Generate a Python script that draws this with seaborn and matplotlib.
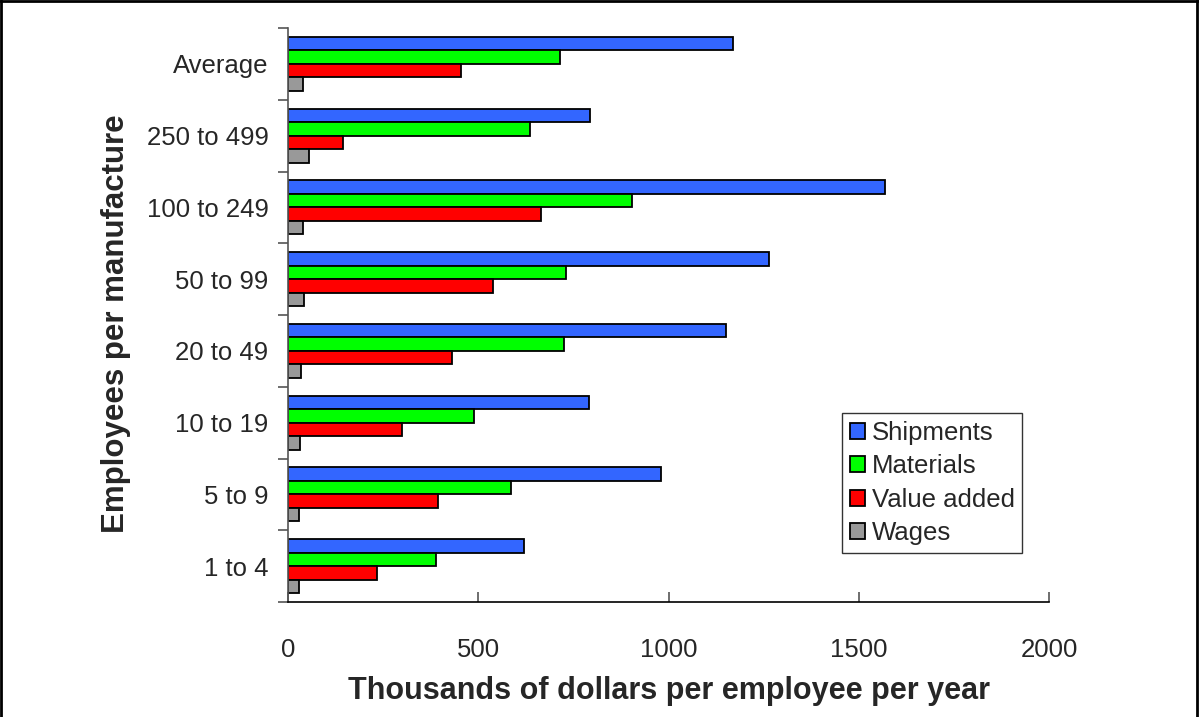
import matplotlib
matplotlib.use("Agg")
import matplotlib.pyplot as plt
from matplotlib.lines import Line2D
from matplotlib.ticker import FixedLocator, NullFormatter
import numpy as np
import pandas as pd
import seaborn as sns

# Establishment size classes (top to bottom) and the four per-employee measures
categories = ["Average", "250 to 499", "100 to 249", "50 to 99",
              "20 to 49", "10 to 19", "5 to 9", "1 to 4"]
series = ["Shipments", "Materials", "Value added", "Wages"]
shipments = [1170, 795, 1570, 1265, 1150, 790, 980, 620]
materials = [715, 635, 905, 730, 725, 490, 585, 390]
value_added = [455, 145, 665, 540, 430, 300, 395, 235]
wages = [40, 55, 40, 42, 35, 32, 30, 28]

colors = ["#3366FF", "#00FF00", "#FF0000", "#999999"]

df = pd.DataFrame({
    "size": categories * 4,
    "measure": sum([[s] * len(categories) for s in series], []),
    "value": shipments + materials + value_added + wages,
})

sns.set_theme(style="white")
plt.rcParams["font.family"] = ["Liberation Sans", "DejaVu Sans"]

fig = plt.figure(figsize=(11.99, 7.17), dpi=100)
ax = fig.add_axes([288 / 1199, 1 - 602 / 717, (1049 - 288) / 1199, (602 - 28) / 717])

sns.barplot(data=df, x="value", y="size", hue="measure", order=categories,
            hue_order=series, palette=colors, orient="h", width=0.75,
            edgecolor="black", linewidth=1.3, saturation=1, ax=ax, legend=True)

ax.set_xlim(0, 2000)
ax.set_ylim(len(categories) - 0.5, -0.5)

# x axis: inward ticks, labels well below the line
ax.set_xticks([0, 500, 1000, 1500, 2000])
ax.tick_params(axis="x", direction="in", length=7, width=1.2, color="#555555",
               labelsize=18.5, pad=26, bottom=True)

# y axis: ticks at category boundaries, labels centred on categories
ax.yaxis.set_major_locator(FixedLocator(np.arange(-0.5, len(categories), 1.0)))
ax.yaxis.set_major_formatter(NullFormatter())
ax.set_yticks(np.arange(len(categories)), minor=True)
ax.set_yticklabels(categories, minor=True)
ax.tick_params(axis="y", which="major", direction="out", length=7, width=1.2,
               color="#555555", left=True)
ax.tick_params(axis="y", which="minor", length=0, labelsize=18.5, pad=14, left=True)

for side in ["top", "right"]:
    ax.spines[side].set_visible(False)
ax.spines["left"].set_color("#555555")
ax.spines["left"].set_linewidth(1.2)
ax.spines["bottom"].set_color("black")
ax.spines["bottom"].set_linewidth(1.2)

ax.set_xlabel("Thousands of dollars per employee per year", fontsize=22,
              fontweight="bold", labelpad=10)
ax.set_ylabel("Employees per manufacture", fontsize=22.5, fontweight="bold")
ax.yaxis.set_label_coords(-0.206, 0.485)

leg = ax.legend(loc="upper left", bbox_to_anchor=(0.728, 0.329), borderaxespad=0,
                fontsize=18.5, handlelength=0.6, handleheight=0.6,
                handletextpad=0.25, labelspacing=0.37, borderpad=0.3,
                fancybox=False, frameon=True, title=None)
leg.get_frame().set_edgecolor("black")
leg.get_frame().set_linewidth(1.0)

# Outer frame around the figure
for xs, ys in [([0.001, 0.001], [0, 1]), ([0, 1], [0.999, 0.999]),
               ([0.9985, 0.9985], [0, 1])]:
    fig.add_artist(Line2D(xs, ys, transform=fig.transFigure, color="black", lw=2))

fig.savefig("out.png", dpi=100)
